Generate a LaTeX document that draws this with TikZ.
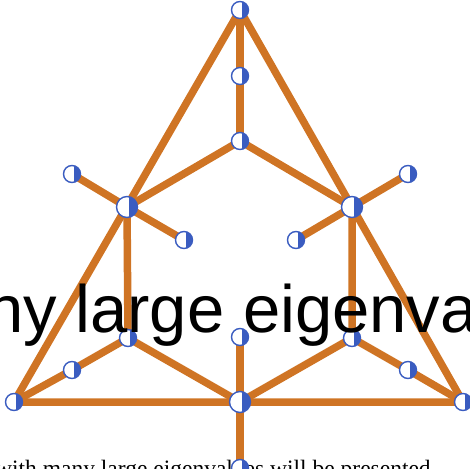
\documentclass[tikz,border=0pt]{standalone}
\usepackage{fontspec}
\newfontfamily\bigsans{Liberation Sans}
\newfontfamily\capserif{Liberation Serif}
\usetikzlibrary{backgrounds}
\definecolor{edgeorange}{HTML}{CF7424}
\definecolor{vblue}{HTML}{3A5CC0}

\begin{document}
\begin{tikzpicture}[x=1pt,y=-1pt,
    vtx/.style={circle,draw=vblue,line width=1.4pt,fill=white,inner sep=0pt,minimum size=17pt,
      path picture={\fill[vblue] ([xshift=1.5pt]path picture bounding box.north) rectangle (path picture bounding box.south east);}},
    hub/.style={vtx,minimum size=21pt},
    edge/.style={draw=edgeorange,line width=7.5pt,line join=round}]
        \clip (0,0) rectangle (470,468);
        \node[anchor=base west,inner sep=0pt,font=\capserif\fontsize{23.5}{26}\selectfont] (caption) at (-5,476)
          {with many large eigenvalues will be presented.};
        \node[vtx] (top) at (240,10) {};
        \node[vtx] (upper) at (240,76) {};
        \node[vtx] (mid) at (240,141) {};
        \node[hub] (lhub) at (127,207) {};
        \node[hub] (rhub) at (352,207) {};
        \node[vtx] (lout) at (72,174) {};
        \node[vtx] (lin) at (184,240) {};
        \node[vtx] (rout) at (408,174) {};
        \node[vtx] (rin) at (296,240) {};
        \node[vtx] (lknee) at (128,338) {};
        \node[vtx] (rknee) at (352,338) {};
        \node[vtx] (lfoot) at (72,370) {};
        \node[vtx] (rfoot) at (408,370) {};
        \node[vtx] (stub) at (240,337) {};
        \node[vtx] (bl) at (14,402) {};
        \node[vtx] (br) at (463,402) {};
        \node[hub] (base) at (240,402) {};
        \node[vtx] (tail) at (240,468) {};
        \begin{scope}[on background layer]
          \draw[edge] (top.center) -- (bl.center) -- (br.center) -- cycle;
          \draw[edge] (top.center) -- (upper.center) -- (mid.center);
          \draw[edge] (lhub.center) -- (mid.center) -- (rhub.center);
          \draw[edge] (lout.center) -- (lhub.center) -- (lin.center);
          \draw[edge] (rout.center) -- (rhub.center) -- (rin.center);
          \draw[edge] (lhub.center) -- (lknee.center) -- (base.center);
          \draw[edge] (rhub.center) -- (rknee.center) -- (base.center);
          \draw[edge] (lknee.center) -- (lfoot.center) -- (bl.center);
          \draw[edge] (rknee.center) -- (rfoot.center) -- (br.center);
          \draw[edge] (stub.center) -- (base.center) -- (tail.center);
        \end{scope}
        \node[anchor=base west,inner sep=0pt,font=\bigsans\fontsize{67}{70}\selectfont] (bigtext) at (-14,332)
          {ny large eigenva};
\end{tikzpicture}
\end{document}
